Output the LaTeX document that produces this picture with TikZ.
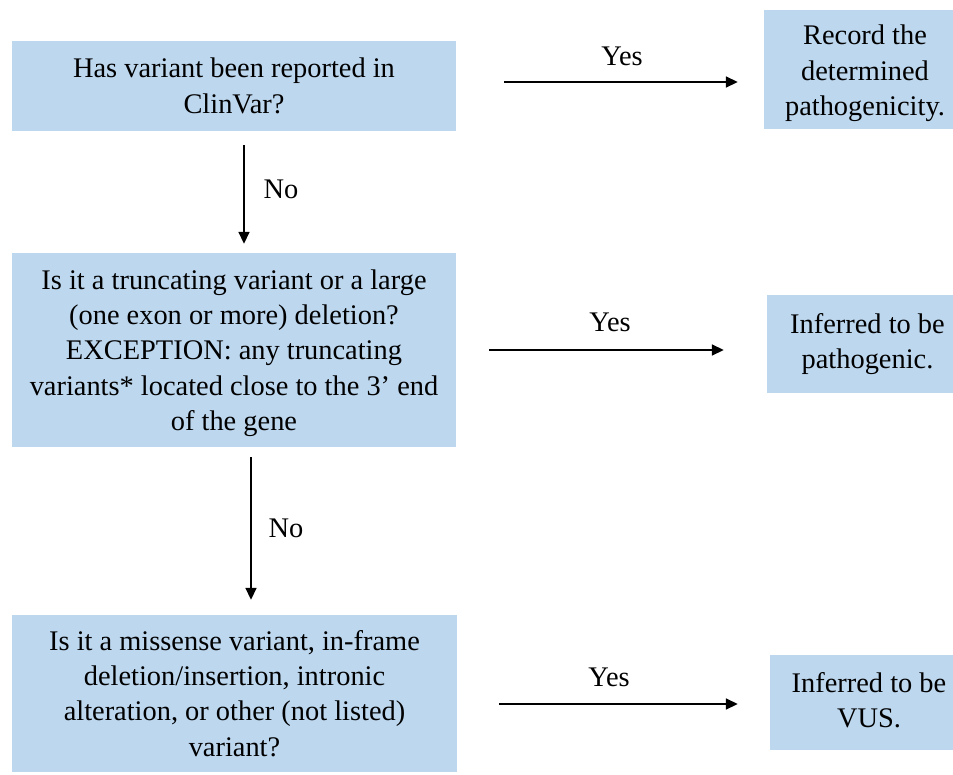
\documentclass[tikz,border=0pt]{standalone}
\usepackage{fontspec}
\setmainfont{Liberation Serif}
\usetikzlibrary{arrows.meta}
\definecolor{boxblue}{HTML}{BDD7EE}
\begin{document}
\begin{tikzpicture}[x=1pt,y=-1pt,
  every node/.style={font=\fontsize{28.4}{35.3}\selectfont},
  flowbox/.style={fill=boxblue,inner sep=0pt,align=center},
  arr/.style={line width=1.7pt,-{Triangle[length=12pt,width=11pt]}},
  lbl/.style={inner sep=0pt}]
\useasboundingbox (0,0) rectangle (953,774);
% boxes
\node[flowbox,minimum width=444pt,minimum height=90pt] (q1) at (234,86)
  {Has variant been reported in\\ClinVar?};
\node[flowbox,minimum width=202pt,minimum height=119pt] (r1) at (865,69.5) {};
\node[align=center,inner sep=0pt] (r1t) at (865,73.5)
  {Record the\\determined\\pathogenicity.};
\node[flowbox,minimum width=444pt,minimum height=194pt] (q2) at (234,350) {};
\node[align=center,inner sep=0pt] (q2t) at (234,353)
  {Is it a truncating variant or a large\\(one exon or more) deletion?\\EXCEPTION: any truncating\\variants* located close to the 3’ end\\of the gene};
\node[flowbox,minimum width=201pt,minimum height=98pt] (r2) at (867.5,344)
  {Inferred to be\\pathogenic.};
\node[flowbox,minimum width=445pt,minimum height=157pt] (q3) at (234.5,693.5)
  {Is it a missense variant, in-frame\\deletion/insertion, intronic\\alteration, or other (not listed)\\variant?};
\node[flowbox,minimum width=198pt,minimum height=95pt] (r3) at (869,702.5) {};
\node[align=center,inner sep=0pt] (r3t) at (869,700.5)
  {Inferred to be\\VUS.};
% arrow levels
\coordinate (y1) at (0,82);
\coordinate (y2) at (0,350);
\coordinate (y3) at (0,704);
\coordinate (x1) at (244,0);
\coordinate (x2) at (251,0);
% connectors
\draw[arr,shorten <=48pt,shorten >=26pt] (q1.east |- y1) -- (r1.west |- y1);
\draw[arr,shorten <=14pt,shorten >=9pt] (x1 |- q1.south) -- (x1 |- q2.north);
\draw[arr,shorten <=33pt,shorten >=43pt] (q2.east |- y2) -- (r2.west |- y2);
\draw[arr,shorten <=10pt,shorten >=15pt] (x2 |- q2.south) -- (x2 |- q3.north);
\draw[arr,shorten <=42pt,shorten >=32pt] (q3.east |- y3) -- (r3.west |- y3);
% labels
\node[lbl] (l1) at (622,56) {Yes};
\node[lbl] (l2) at (281,189) {No};
\node[lbl] (l3) at (610,322) {Yes};
\node[lbl] (l4) at (286,528) {No};
\node[lbl] (l5) at (609,677) {Yes};
\end{tikzpicture}
\end{document}
